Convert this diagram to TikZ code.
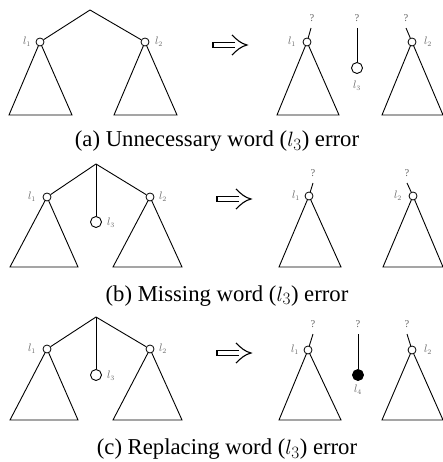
\documentclass[tikz,border=0pt]{standalone}
\usepackage[no-math]{fontspec}
\setmainfont{Liberation Serif}
\begin{document}
\begin{tikzpicture}[x=1pt,y=-1pt,line width=0.9pt,
  leaf/.style={circle,draw,fill=white,inner sep=0pt,minimum size=8pt,line width=0.8pt},
  bigleaf/.style={circle,draw,fill=white,inner sep=0pt,minimum size=11pt,line width=0.9pt},
  darkleaf/.style={bigleaf,fill=black},
  lbl/.style={text=black!60,font=\fontsize{10.5}{12}\selectfont,inner sep=0pt},
  captext/.style={anchor=base,font=\fontsize{22.7}{27}\selectfont,inner sep=0pt},
  implies/.style={line width=1.1pt}]
\useasboundingbox (0,0) rectangle (443,462);
\newcommand\hollowimp[2]{%
  \begin{scope}[shift={(#1,#2)}]
    \draw[implies] (22,-2.6) -- (0,-2.6) -- (0,2.6) -- (22,2.6);
    \draw[implies] (19,-10) .. controls (24,-5) and (28,-1.5) .. (34,0) .. controls (28,1.5) and (24,5) .. (19,10);
  \end{scope}}

% ===================== (a) =====================
\coordinate (aR) at (90,10);
\coordinate (aP1) at (40,42);
\coordinate (aP2) at (145,42);
\draw (aP1) -- (9,115) -- (72,115) -- cycle;
\draw (aP2) -- (114,115) -- (177,115) -- cycle;
\node[leaf] (aL1) at (aP1) {};
\node[leaf] (aL2) at (aP2) {};
\draw (aR) -- (aL1);
\draw (aR) -- (aL2);
\node[lbl] (aT1) at (27,42) {$l_1$};
\node[lbl] (aT2) at (159,42) {$l_2$};

\hollowimp{213}{45}

\coordinate (aQ1) at (307,42);
\coordinate (aQ2) at (412,42);
\draw (aQ1) -- (277,115) -- (339,115) -- cycle;
\draw (aQ2) -- (382,115) -- (443,115) -- cycle;
\node[leaf] (aM1) at (aQ1) {};
\node[leaf] (aM2) at (aQ2) {};
\coordinate (aS1) at (311,28);
\coordinate (aS2) at (406,28);
\coordinate (aS3) at (357,28);
\draw (aM1) -- (aS1);
\draw (aM2) -- (aS2);
\node[bigleaf] (aM3) at (357,68) {};
\draw (aS3) -- (aM3);
\node[lbl] (aU1) at (312,18) {?};
\node[lbl] (aU3) at (357,18) {?};
\node[lbl] (aU2) at (406,18) {?};
\node[lbl] (aV1) at (292,42) {$l_1$};
\node[lbl] (aV2) at (428,42) {$l_2$};
\node[lbl] (aV3) at (357,86) {$l_3$};
\node[captext] (capA) at (217,147) {(a) Unnecessary word ($l_3$) error};

% ===================== (b) =====================
\coordinate (bR) at (96,164);
\coordinate (bP1) at (47,197);
\coordinate (bP2) at (150,197);
\draw (bP1) -- (10,267) -- (78,267) -- cycle;
\draw (bP2) -- (113,267) -- (182,267) -- cycle;
\node[leaf] (bL1) at (bP1) {};
\node[leaf] (bL2) at (bP2) {};
\node[bigleaf] (bL3) at (96,222) {};
\draw (bR) -- (bL1);
\draw (bR) -- (bL2);
\draw (bR) -- (bL3);
\node[lbl] (bT1) at (32,197) {$l_1$};
\node[lbl] (bT2) at (163,197) {$l_2$};
\node[lbl] (bT3) at (111,223) {$l_3$};

\hollowimp{217}{199}

\coordinate (bQ1) at (309,196);
\coordinate (bQ2) at (413,196);
\draw (bQ1) -- (279,267) -- (341,267) -- cycle;
\draw (bQ2) -- (383,267) -- (443,267) -- cycle;
\node[leaf] (bM1) at (bQ1) {};
\node[leaf] (bM2) at (bQ2) {};
\coordinate (bS1) at (313,183);
\coordinate (bS2) at (407,183);
\draw (bM1) -- (bS1);
\draw (bM2) -- (bS2);
\node[lbl] (bU1) at (313,173) {?};
\node[lbl] (bU2) at (407,173) {?};
\node[lbl] (bV1) at (296,196) {$l_1$};
\node[lbl] (bV2) at (398,196) {$l_2$};
\node[captext] (capB) at (227,301) {(b) Missing word ($l_3$) error};

% ===================== (c) =====================
\coordinate (cR) at (96,317);
\coordinate (cP1) at (47,349);
\coordinate (cP2) at (150,349);
\draw (cP1) -- (10,420) -- (78,420) -- cycle;
\draw (cP2) -- (113,420) -- (182,420) -- cycle;
\node[leaf] (cL1) at (cP1) {};
\node[leaf] (cL2) at (cP2) {};
\node[bigleaf] (cL3) at (96,375) {};
\draw (cR) -- (cL1);
\draw (cR) -- (cL2);
\draw (cR) -- (cL3);
\node[lbl] (cT1) at (32,349) {$l_1$};
\node[lbl] (cT2) at (163,349) {$l_2$};
\node[lbl] (cT3) at (111,376) {$l_3$};

\hollowimp{217}{353}

\coordinate (cQ1) at (308,350);
\coordinate (cQ2) at (412,350);
\draw (cQ1) -- (279,420) -- (341,420) -- cycle;
\draw (cQ2) -- (382,420) -- (443,420) -- cycle;
\node[leaf] (cM1) at (cQ1) {};
\node[leaf] (cM2) at (cQ2) {};
\coordinate (cS1) at (313,334);
\coordinate (cS2) at (407,334);
\coordinate (cS3) at (358,334);
\draw (cM1) -- (cS1);
\draw (cM2) -- (cS2);
\node[darkleaf] (cM3) at (358,375) {};
\draw (cS3) -- (cM3);
\node[lbl] (cU1) at (313,324) {?};
\node[lbl] (cU3) at (358,324) {?};
\node[lbl] (cU2) at (407,324) {?};
\node[lbl] (cV1) at (295,350) {$l_1$};
\node[lbl] (cV2) at (428,350) {$l_2$};
\node[lbl] (cV4) at (358,390) {$l_4$};
\node[captext] (capC) at (227,454) {(c) Replacing word ($l_3$) error};
\end{tikzpicture}
\end{document}
